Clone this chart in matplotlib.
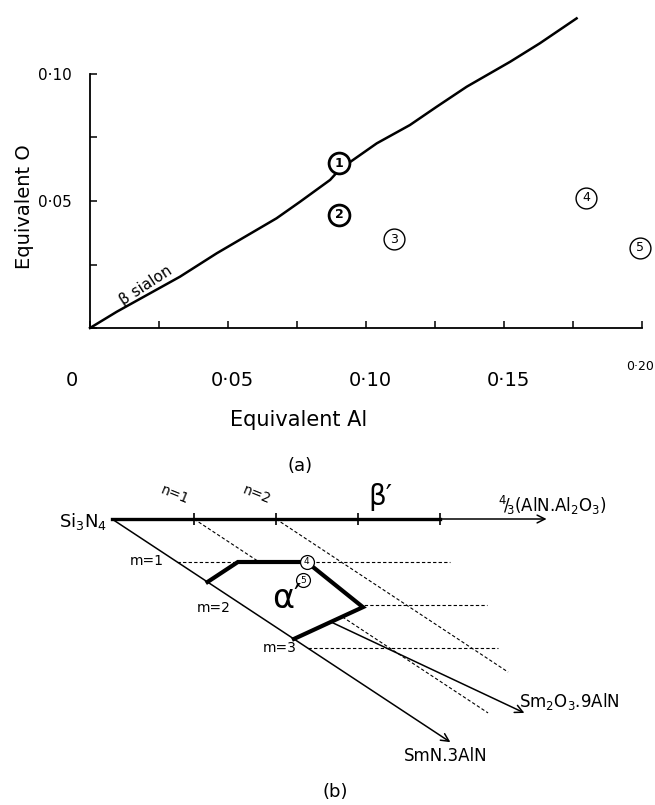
import numpy as np
import matplotlib
matplotlib.use('Agg')
import matplotlib.pyplot as plt
from matplotlib.patches import Polygon

plt.rcParams['font.family'] = ['DejaVu Sans']

# (a) beta-sialon line, equivalent Al vs equivalent O
beta_al = [0, 0.0097, 0.0326, 0.0459, 0.0676, 0.0761, 0.087, 0.0905,
           0.1039, 0.1159, 0.1256, 0.1365, 0.1522, 0.163, 0.1763]
beta_o = [0, 0.0064, 0.0202, 0.0294, 0.0432, 0.0497, 0.0583, 0.0625,
          0.0727, 0.0799, 0.0871, 0.095, 0.1048, 0.1121, 0.1219]

sample_al = [0.0902, 0.0902, 0.1101, 0.1797, 0.1993]
sample_o = [0.0648, 0.0445, 0.035, 0.0512, 0.0315]
sample_ids = ['1', '2', '3', '4', '5']
sample_bold = [True, True, False, False, False]

xtick_vals = [0, 0.05, 0.10, 0.15, 0.20]
xtick_text = ['0', '0·05', '0·10', '0·15', '0·20']
ytick_vals = [0, 0.025, 0.05, 0.075, 0.10]
ytick_text = ['', '', '0·05', '', '0·10']

# (b) Si3N4 corner of the Sm-Si-Al-O-N plane, in (n, m) units
n_ticks = [1, 2, 3, 4]
n_thick_end = 4
n_axis_end = 5.3
m_levels = [1, 2, 3]
m_level_end = [3.33, 2.98, 2.32]
n_levels = [1, 2]
n_level_end = [4.51, 3.56]
alpha_n = [0, 0.74, 1.58, 1.43, 0]
alpha_m = [1.465, 1.0, 1.0, 2.05, 2.79]
comp4 = (1.58, 1.0)
comp5 = (1.2, 1.42)
sm2o3_ratio = 0.32          # n/m along the Si3N4 - Sm2O3.9AlN join
sm2o3_m = [2.39, 4.51]
smn_end_m = 5.19

N_STEP = 82.0
M_STEP = (65.2, -43.0)


def to_xy(n, m):
    n = np.asarray(n, dtype=float)
    m = np.asarray(m, dtype=float)
    return n * N_STEP + m * M_STEP[0], m * M_STEP[1]


fig = plt.figure(figsize=(6.55, 8.05), dpi=100)

# ---------------- (a) ----------------
ax = fig.add_axes([90 / 655, 1 - 328 / 805, 552 / 655, 318 / 805])
ax.set_xlim(0, 0.20)
ax.set_ylim(0, 318 / 2540)
for side in ['top', 'right']:
    ax.spines[side].set_visible(False)
ax.spines['left'].set_bounds(0, 0.10)
ax.spines['bottom'].set_bounds(0, 0.20)
for side in ['left', 'bottom']:
    ax.spines[side].set_linewidth(1.3)

ax.set_xticks(np.arange(0, 0.2001, 0.025), [''] * 9)
ax.set_yticks(ytick_vals, ytick_text, fontsize=11)
ax.tick_params(direction='in', length=5, width=1.1)
ax.tick_params(axis='y', pad=13)

for val, lab in zip(xtick_vals, xtick_text):
    if lab == '0·20':
        ax.annotate(lab, xy=(val, 0), xycoords=('data', 'axes fraction'),
                    xytext=(12, -38), textcoords='offset pixels',
                    ha='right', va='center', fontsize=9,
                    annotation_clip=False)
        continue
    dx = -18 if lab == '0' else 4
    ax.annotate(lab, xy=(val, 0), xycoords=('data', 'axes fraction'),
                xytext=(dx, -52), textcoords='offset pixels',
                ha='center', va='center', fontsize=14, annotation_clip=False)

ax.plot(beta_al, beta_o, color='black', lw=1.8, clip_on=False, zorder=2)
ax.text(0.0203, 0.0169, 'β sialon', rotation=33, ha='center', va='center',
        fontsize=11)

for x, y, lab, bold in zip(sample_al, sample_o, sample_ids, sample_bold):
    ax.plot(x, y, marker='o', ms=15, mfc='white', mec='black',
            mew=2.0 if bold else 1.0, clip_on=False, zorder=3)
    ax.text(x, y, lab, ha='center', va='center', fontsize=9,
            fontweight='bold' if bold else 'normal', zorder=4)

fig.text(299 / 655, 1 - 420 / 805, 'Equivalent Al', ha='center',
         va='center', fontsize=15)
fig.text(25 / 655, 1 - 207 / 805, 'Equivalent O', rotation=90,
         ha='center', va='center', fontsize=14)
fig.text(300 / 655, 1 - 466 / 805, '(a)', ha='center', va='center',
         fontsize=13)

# ---------------- (b) ----------------
bx = fig.add_axes([0, 0, 1, 335 / 805])
bx.set_xlim(-112, 543)
bx.set_ylim(-286, 49)
bx.axis('off')

dash = (0, (3, 2))
for m, end in zip(m_levels, m_level_end):
    bx.plot(*to_xy([0, end], [m, m]), color='black', lw=0.8, ls=dash,
            zorder=1)
for n, end in zip(n_levels, n_level_end):
    bx.plot(*to_xy([n, n], [0, end]), color='black', lw=0.8, ls=dash,
            zorder=1)

# alpha' region: white fill hides the construction lines inside it
px, py = to_xy(alpha_n, alpha_m)
bx.add_patch(Polygon(np.column_stack([px, py]), closed=True,
                     facecolor='white', edgecolor='none', zorder=2))
bx.plot(px, py, color='black', lw=3, solid_joinstyle='miter', zorder=3)

arrow = dict(arrowstyle='->', lw=1.1, color='black', shrinkA=0, shrinkB=0,
             mutation_scale=14)

# beta' axis towards 4/3(AlN.Al2O3)
bx.annotate('', xy=to_xy(n_axis_end, 0), xytext=to_xy(0, 0),
            arrowprops=arrow, zorder=4)
bx.plot(*to_xy([0, n_thick_end], [0, 0]), color='black', lw=2.4, zorder=4)
bx.plot(*to_xy(n_ticks, np.zeros(len(n_ticks))), ls='none', marker='|',
        ms=8, mew=1.2, color='black', zorder=4)

# Si3N4 - SmN.3AlN join
bx.annotate('', xy=to_xy(0, smn_end_m), xytext=to_xy(0, 0),
            arrowprops=arrow, zorder=4)
# Si3N4 - Sm2O3.9AlN join
m0, m1 = sm2o3_m
bx.annotate('', xy=to_xy(sm2o3_ratio * m1, m1),
            xytext=to_xy(sm2o3_ratio * m0, m0), arrowprops=arrow, zorder=4)

for (n, m), lab in zip([comp4, comp5], ['4', '5']):
    x, y = to_xy(n, m)
    bx.plot(x, y, marker='o', ms=10, mfc='white', mec='black', mew=0.9,
            zorder=5)
    bx.text(x, y, lab, ha='center', va='center', fontsize=6.5, zorder=6)

ax_x, ax_y = to_xy(0, 0)
bx.annotate('Si$_3$N$_4$', xy=(ax_x, ax_y), xytext=(-5, -3),
            textcoords='offset pixels', ha='right', va='center', fontsize=13)
for n, lab in zip([1, 2], ['n=1', 'n=2']):
    bx.annotate(lab, xy=to_xy(n, 0), xytext=(-19, 24),
                textcoords='offset pixels', ha='center', va='center',
                rotation=-22, fontsize=10)
bx.annotate("β′", xy=to_xy(3, 0), xytext=(22, 22), textcoords='offset pixels',
            ha='center', va='center', fontsize=20)
bx.annotate(r'$^4\!/\!_3$(AlN.Al$_2$O$_3$)', xy=to_xy(n_axis_end, 0),
            xytext=(-49, 14), textcoords='offset pixels', ha='left',
            va='center', fontsize=12)
for m, dx, dy in zip(m_levels, [-30, -29, -28], [1, -3, 0]):
    bx.annotate('m=%d' % m, xy=to_xy(0, m), xytext=(dx, dy),
                textcoords='offset pixels', ha='center', va='center',
                fontsize=10)
bx.annotate("α′", xy=to_xy(0.67, 1.84), ha='center', va='center',
            fontsize=24, zorder=6)
bx.annotate('Sm$_2$O$_3$.9AlN', xy=to_xy(sm2o3_ratio * m1, m1),
            xytext=(-5, 11), textcoords='offset pixels', ha='left',
            va='center', fontsize=12)
bx.annotate('SmN.3AlN', xy=to_xy(0, smn_end_m), xytext=(-5, -14),
            textcoords='offset pixels', ha='center', va='center',
            fontsize=12)
fig.text(335 / 655, 1 - 792 / 805, '(b)', ha='center', va='center',
         fontsize=13)

fig.savefig('out.png', dpi=100)
